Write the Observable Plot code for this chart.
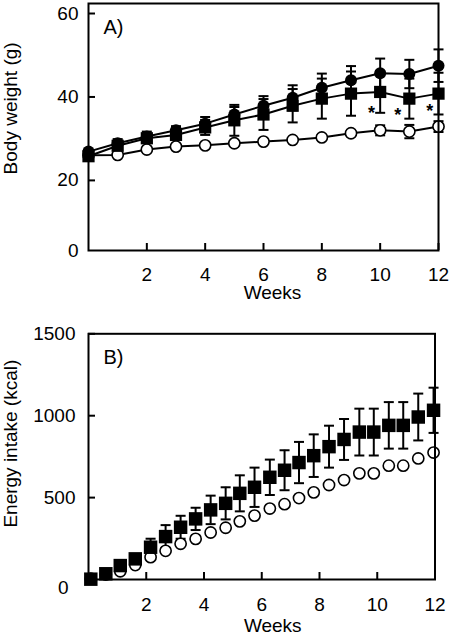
<!DOCTYPE html>
<html>
<head>
<meta charset="utf-8">
<script src="https://cdn.jsdelivr.net/npm/d3@7"></script>
<script src="https://cdn.jsdelivr.net/npm/@observablehq/plot@0.6"></script>
<style>
  html, body { margin: 0; padding: 0; background: #fff; }
  #chart { width: 452px; }
  #chart svg { display: block; }
</style>
</head>
<body>
<div id="chart"></div>
<script>
// ---------- Panel A: body weight ----------
const weeksA = [0, 1, 2, 3, 4, 5, 6, 7, 8, 9, 10, 11, 12];
const filledCircleA = [26.9, 28.9, 30.5, 32.0, 33.6, 35.8, 37.9, 39.8, 42.2, 44.0, 45.7, 45.5, 47.5];
const filledCircleErrA = [0.5, 1.0, 1.2, 1.0, 1.6, 1.8, 2.3, 3.0, 3.4, 3.4, 3.5, 3.4, 3.9];
const squareA = [25.8, 28.3, 30.1, 30.9, 32.7, 34.4, 35.8, 37.9, 39.6, 40.8, 41.2, 39.6, 40.8];
const squareErrA = [0.5, 0.8, 1.0, 1.2, 1.8, 3.7, 3.7, 4.0, 4.8, 5.3, 5.0, 4.8, 5.0];
const openCircleA = [26.0, 26.1, 27.4, 28.1, 28.4, 28.9, 29.3, 29.7, 30.3, 31.3, 32.0, 31.7, 32.9];
const openCircleErrA = [0.3, 0.4, 0.5, 0.5, 0.5, 0.5, 0.5, 0.5, 0.6, 0.7, 1.2, 1.6, 1.3];
const starWeeksA = [9.7, 10.6, 11.7];
const starValuesA = [37.4, 36.8, 37.8];
const xTicks = [2, 4, 6, 8, 10, 12];
const yTicksA = [20, 40, 60];
const yBottomLabelA = "0";
const yDomainA = [3.2, 62.4];

// ---------- Panel B: energy intake ----------
const weeksB = [0.08, 0.6, 1.1, 1.62, 2.15, 2.67, 3.19, 3.71, 4.23, 4.75, 5.24, 5.75, 6.28, 6.79, 7.29, 7.8, 8.33, 8.85, 9.38, 9.88, 10.4, 10.9, 11.42, 11.95];
const squareB = [2, 35, 85, 126, 197, 262, 319, 370, 425, 465, 526, 563, 624, 667, 714, 756, 811, 855, 900, 900, 941, 941, 992, 1033];
const squareErrB = [3, 10, 15, 25, 52, 70, 70, 68, 87, 98, 110, 120, 108, 122, 126, 130, 128, 125, 143, 143, 142, 142, 143, 138];
const openCircleB = [5, 30, 50, 88, 136, 175, 218, 248, 287, 316, 355, 390, 433, 460, 497, 532, 577, 607, 648, 648, 695, 695, 739, 775];
const yTicksB = [500, 1000, 1500];
const yBottomLabelB = "0";
const yDomainB = [0, 1500];

const font = "'Liberation Sans', Arial, Helvetica, sans-serif";
const fs = 19;
const plain = d => String(d);

// horizontal cap symbol for error bars
const capSymbol = {
  draw(ctx, size) {
    const h = Math.sqrt(size / Math.PI);
    ctx.moveTo(-h, 0);
    ctx.lineTo(h, 0);
  }
};

function rows(weeks, values, errs) {
  return weeks.map((w, i) => ({week: w, v: values[i], e: errs ? errs[i] : 0}));
}

function errorMarks(data) {
  return [
    Plot.ruleX(data, {x: "week", y1: d => d.v - d.e, y2: d => d.v + d.e, stroke: "black", strokeWidth: 2}),
    Plot.dot(data, {x: "week", y: d => d.v + d.e, symbol: capSymbol, r: 5, stroke: "black", fill: "none", strokeWidth: 2}),
    Plot.dot(data, {x: "week", y: d => d.v - d.e, symbol: capSymbol, r: 5, stroke: "black", fill: "none", strokeWidth: 2})
  ];
}

const fc = rows(weeksA, filledCircleA, filledCircleErrA);
const sq = rows(weeksA, squareA, squareErrA);
const oc = rows(weeksA, openCircleA, openCircleErrA);
const stars = starWeeksA.map((w, i) => ({week: w, v: starValuesA[i]}));

const plotA = Plot.plot({
  width: 452,
  height: 300,
  marginLeft: 88,
  marginRight: 14,
  marginTop: 3,
  marginBottom: 50,
  x: {domain: [0, 12]},
  y: {domain: yDomainA},
  style: {fontFamily: font, fontSize: fs + "px", color: "black", background: "white", overflow: "visible"},
  marks: [
    Plot.axisX(xTicks, {tickSize: 0, tickPadding: 17, label: null, fontSize: fs, tickFormat: plain}),
    Plot.axisX(xTicks, {tickSize: 7, dy: -7, strokeWidth: 2, tickFormat: () => "", label: null}),
    Plot.axisY(yTicksA, {tickSize: 0, tickPadding: 10, label: null, fontSize: fs, tickFormat: plain}),
    Plot.axisY(yTicksA, {tickSize: 7, dx: 7, strokeWidth: 2, tickFormat: () => "", label: null}),
    Plot.text([yBottomLabelA], {frameAnchor: "bottom-left", dx: -10, textAnchor: "end", lineAnchor: "middle", fontSize: fs}),
    Plot.text(["Weeks"], {frameAnchor: "bottom", dx: 9, dy: 35, textAnchor: "middle", lineAnchor: "top", fontSize: fs}),
    Plot.text(["Body weight (g)"], {frameAnchor: "left", rotate: -90, dx: -78, dy: -18.6, textAnchor: "middle", lineAnchor: "middle", fontSize: fs}),
    Plot.text(["A)"], {frameAnchor: "top-left", dx: 15, dy: 16.5, textAnchor: "start", lineAnchor: "top", fontSize: fs + 1}),
    ...errorMarks(oc),
    ...errorMarks(sq),
    ...errorMarks(fc),
    Plot.line(oc, {x: "week", y: "v", stroke: "black", strokeWidth: 2}),
    Plot.line(sq, {x: "week", y: "v", stroke: "black", strokeWidth: 2}),
    Plot.line(fc, {x: "week", y: "v", stroke: "black", strokeWidth: 2}),
    Plot.dot(oc, {x: "week", y: "v", r: 5.6, fill: "white", stroke: "black", strokeWidth: 1.6}),
    Plot.dot(fc, {x: "week", y: "v", r: 6, fill: "black", stroke: "none"}),
    Plot.dot(sq, {x: "week", y: "v", r: 6.9, symbol: "square", fill: "black", stroke: "none"}),
    Plot.text(stars, {x: "week", y: "v", text: () => "*", fontSize: 18, fontWeight: "bold", lineAnchor: "middle", dy: 5}),
    Plot.frame({stroke: "black", strokeWidth: 2})
  ]
});

const sqB = rows(weeksB, squareB, squareErrB);
const ocB = rows(weeksB, openCircleB, null);

const plotB = Plot.plot({
  width: 452,
  height: 335,
  marginLeft: 88,
  marginRight: 17.5,
  marginTop: 33.3,
  marginBottom: 56,
  x: {domain: [0, 12]},
  y: {domain: yDomainB},
  style: {fontFamily: font, fontSize: fs + "px", color: "black", background: "white", overflow: "visible"},
  marks: [
    Plot.axisX(xTicks, {tickSize: 0, tickPadding: 18, label: null, fontSize: fs, tickFormat: plain}),
    Plot.axisX(xTicks, {tickSize: 7, dy: -7, strokeWidth: 2, tickFormat: () => "", label: null}),
    Plot.axisY(yTicksB, {tickSize: 0, tickPadding: 13, label: null, fontSize: fs, tickFormat: plain}),
    Plot.axisY(yTicksB, {tickSize: 7, dx: 7, strokeWidth: 2, tickFormat: () => "", label: null}),
    Plot.text([yBottomLabelB], {frameAnchor: "bottom-left", dx: -20, dy: 8, textAnchor: "end", lineAnchor: "middle", fontSize: fs}),
    Plot.text(["Weeks"], {frameAnchor: "bottom", dx: 11, dy: 39, textAnchor: "middle", lineAnchor: "top", fontSize: fs}),
    Plot.text(["Energy intake (kcal)"], {frameAnchor: "left", rotate: -90, dx: -78, dy: -13, textAnchor: "middle", lineAnchor: "middle", fontSize: fs}),
    Plot.text(["B)"], {frameAnchor: "top-left", dx: 15, dy: 16.2, textAnchor: "start", lineAnchor: "top", fontSize: fs + 1}),
    ...errorMarks(sqB),
    Plot.dot(ocB, {x: "week", y: "v", r: 5.6, fill: "white", stroke: "black", strokeWidth: 1.6}),
    Plot.dot(sqB, {x: "week", y: "v", r: 7.6, symbol: "square", fill: "black", stroke: "none"}),
    Plot.frame({stroke: "black", strokeWidth: 2})
  ]
});

const chart = document.getElementById("chart");
chart.appendChild(plotA);
chart.appendChild(plotB);
</script>
</body>
</html>
